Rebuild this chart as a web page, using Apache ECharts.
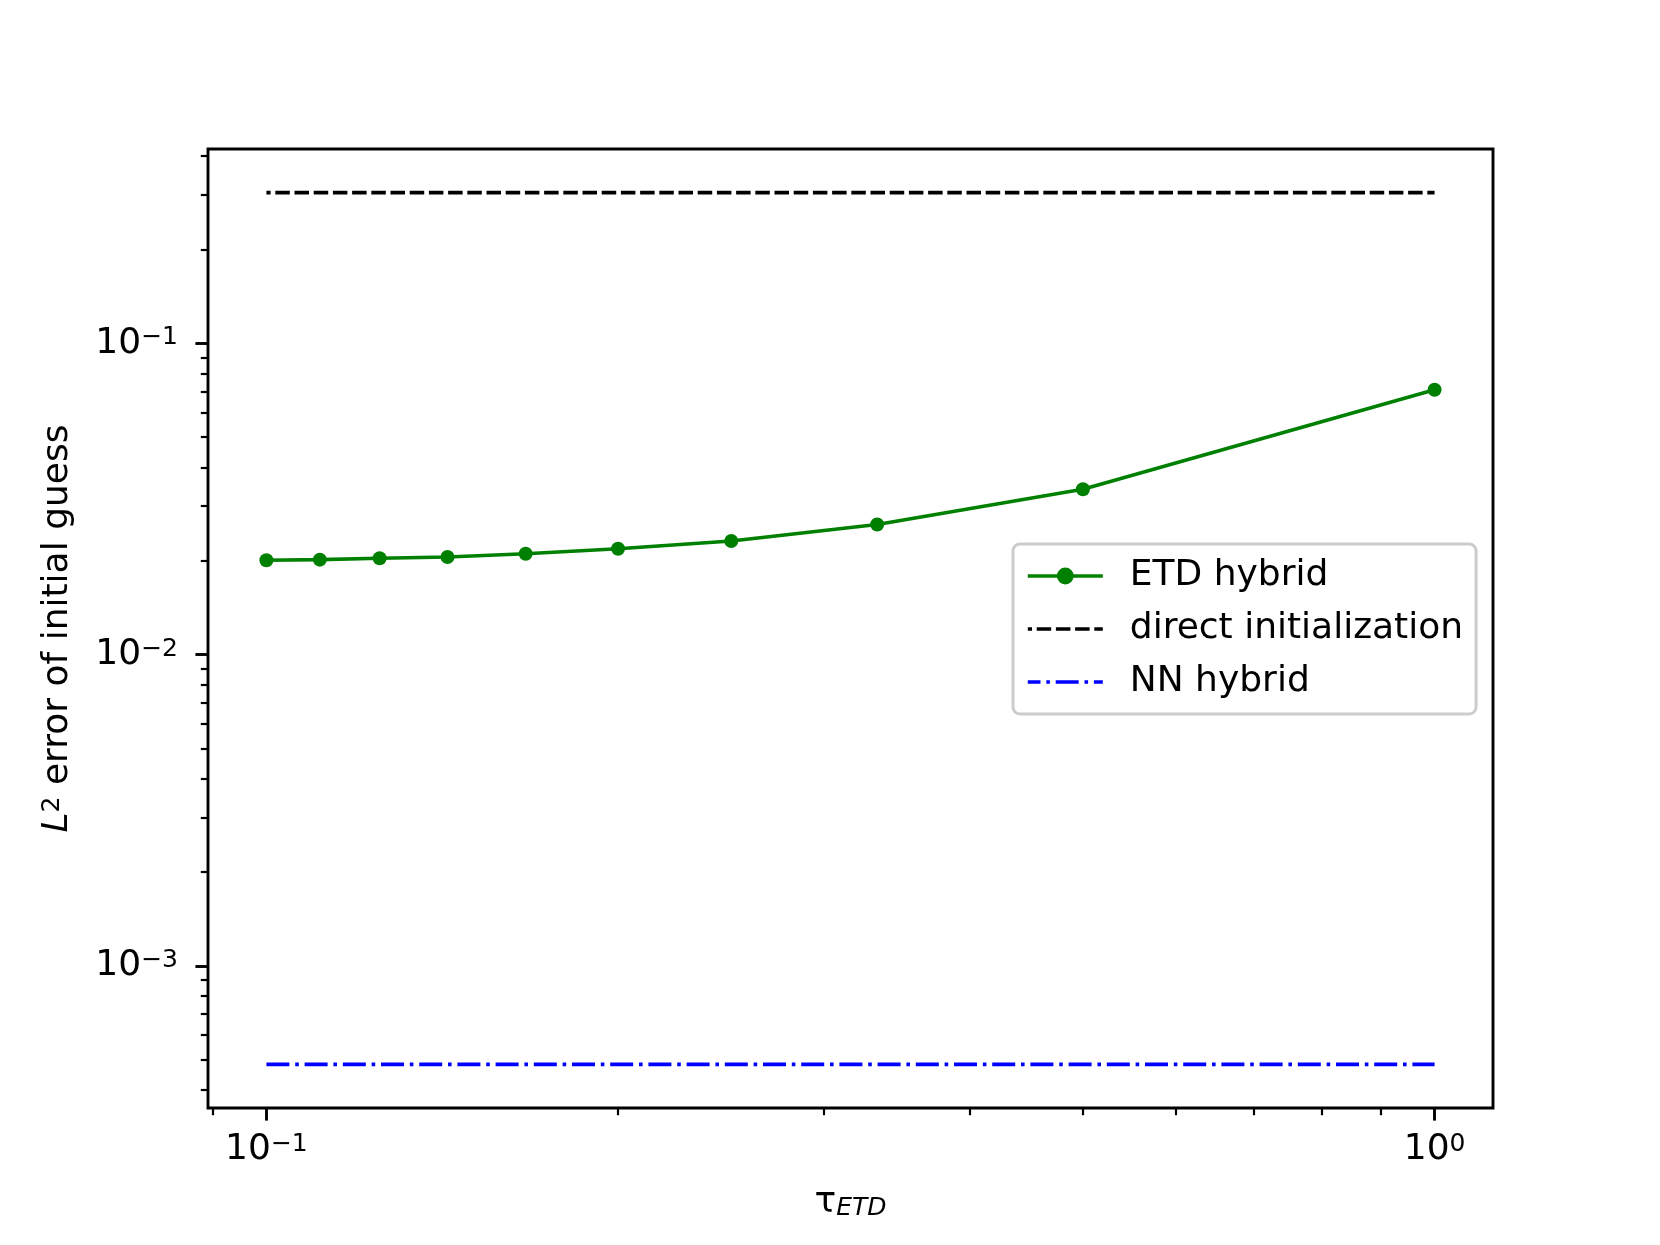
<!DOCTYPE html>
<html><head><meta charset="utf-8">
<script src="https://cdn.jsdelivr.net/npm/echarts@6/dist/echarts.min.js"></script>
<style>html,body{margin:0;padding:0;background:#fff}#c{width:1660px;height:1245px}</style>
</head><body><div id="c"></div>
<script>
// ---- data ----
const tau = [0.1, 0.1111, 0.125, 0.1429, 0.1667, 0.2, 0.25, 0.3333, 0.5, 1.0];
const etdHybrid = [0.0201, 0.0202, 0.0204, 0.0206, 0.0211, 0.0219, 0.0232, 0.0262, 0.0340, 0.0710];
const directInit = [0.3055, 0.3055, 0.3055, 0.3055, 0.3055, 0.3055, 0.3055, 0.3055, 0.3055, 0.3055];
const nnHybrid = [0.000482, 0.000482, 0.000482, 0.000482, 0.000482, 0.000482, 0.000482, 0.000482, 0.000482, 0.000482];
const seriesNames = ['ETD hybrid', 'direct initialization', 'NN hybrid'];
const xMajorTicks = [0.1, 1];
const xMinorTicks = [0.09, 0.2, 0.3, 0.4, 0.5, 0.6, 0.7, 0.8, 0.9];
const yMajorTicks = [0.001, 0.01, 0.1];
const yMinorTicks = [0.0004, 0.0005, 0.0006, 0.0007, 0.0008, 0.0009,
  0.002, 0.003, 0.004, 0.005, 0.006, 0.007, 0.008, 0.009,
  0.02, 0.03, 0.04, 0.05, 0.06, 0.07, 0.08, 0.09,
  0.2, 0.3, 0.4];

// ---- axis limits (matplotlib-style 5% margins in log space) ----
function logLimits(vals) {
  const lo = Math.log10(Math.min.apply(null, vals)), hi = Math.log10(Math.max.apply(null, vals));
  const m = 0.05 * (hi - lo);
  return [Math.pow(10, lo - m), Math.pow(10, hi + m)];
}
const xLim = logLimits(tau);
const yLim = logLimits(etdHybrid.concat(directInit, nnHybrid));

const FONT = 'DejaVu Sans';
const BLACK = '#000000';
const LW = 3.6;

function powLabel(v) {
  const e = Math.round(Math.log10(v));
  return '{b|10}{s|' + (e < 0 ? '\u2212' + (-e) : String(e)) + '}';
}
const powRich = {
  b: { fontSize: 36, lineHeight: 36, fontFamily: FONT, color: BLACK },
  s: { fontSize: 25, lineHeight: 24, verticalAlign: 'top', fontFamily: FONT, color: BLACK }
};

function majorAxis(lim, ticks, extra) {
  return Object.assign({
    type: 'log', logBase: 10, gridIndex: 0,
    min: lim[0], max: lim[1],
    axisLine: { show: false },
    splitLine: { show: false },
    minorTick: { show: false },
    minorSplitLine: { show: false },
    axisTick: { show: true, customValues: ticks, length: 12.6, lineStyle: { color: BLACK, width: 2.9 } }
  }, extra);
}
function minorAxis(lim, ticks, pos) {
  return {
    type: 'log', logBase: 10, gridIndex: 0, position: pos,
    min: lim[0], max: lim[1],
    axisLine: { show: false },
    splitLine: { show: false },
    axisLabel: { show: false },
    axisTick: { show: true, customValues: ticks, length: 7.2, lineStyle: { color: BLACK, width: 2.2 } }
  };
}

const chart = echarts.init(document.getElementById('c'), null, { renderer: 'canvas' });
const pairs = (ys) => tau.map((t, i) => [t, ys[i]]);
const noDot = { color: 'rgba(0,0,0,0)', borderWidth: 0, borderColor: 'rgba(0,0,0,0)' };

chart.setOption({
  animation: false,
  backgroundColor: '#ffffff',
  grid: {
    left: 208, right: 167, top: 149, bottom: 137,
    show: true, borderColor: BLACK, borderWidth: 2.9, backgroundColor: '#ffffff',
    containLabel: false
  },
  xAxis: [
    majorAxis(xLim, xMajorTicks, {
      position: 'bottom',
      name: '{t|\u03c4}{u|ETD}', nameLocation: 'middle', nameGap: 77,
      nameTextStyle: {
        rich: {
          t: { fontSize: 36, lineHeight: 36, fontFamily: FONT, color: BLACK },
          u: { fontSize: 25, lineHeight: 14, verticalAlign: 'bottom', fontStyle: 'italic', fontFamily: FONT, color: BLACK }
        }
      },
      axisLabel: {
        show: true, customValues: xMajorTicks, formatter: powLabel, rich: powRich, margin: 24,
        fontSize: 36, fontFamily: FONT, color: BLACK, hideOverlap: false
      }
    }),
    minorAxis(xLim, xMinorTicks, 'bottom')
  ],
  yAxis: [
    majorAxis(yLim, yMajorTicks, {
      position: 'left',
      name: '{i|L}{s|2}{n| error of initial guess}', nameLocation: 'middle', nameRotate: 90, nameGap: 132,
      nameTextStyle: {
        rich: {
          i: { fontSize: 36, lineHeight: 36, fontStyle: 'italic', fontFamily: FONT, color: BLACK },
          s: { fontSize: 25, lineHeight: 20, verticalAlign: 'top', fontFamily: FONT, color: BLACK },
          n: { fontSize: 36, lineHeight: 36, fontFamily: FONT, color: BLACK }
        }
      },
      axisLabel: {
        show: true, customValues: yMajorTicks, formatter: powLabel, rich: powRich, margin: 30,
        fontSize: 36, fontFamily: FONT, color: BLACK, hideOverlap: false
      }
    }),
    minorAxis(yLim, yMinorTicks, 'left')
  ],
  legend: {
    orient: 'vertical', left: 1013, top: 544,
    padding: [12, 13, 12, 13], itemGap: 13, itemWidth: 75, itemHeight: 21,
    backgroundColor: 'rgba(255,255,255,0.8)', borderColor: '#cccccc', borderWidth: 3, borderRadius: 7,
    selectedMode: false,
    lineStyle: { width: LW },
    textStyle: { fontSize: 36, lineHeight: 40, fontFamily: FONT, color: BLACK, padding: [0, 0, 0, 22] },
    data: [
      { name: seriesNames[0] },
      { name: seriesNames[1], itemStyle: noDot },
      { name: seriesNames[2], itemStyle: noDot }
    ]
  },
  series: [
    {
      name: seriesNames[0], type: 'line', xAxisIndex: 0, yAxisIndex: 0,
      data: pairs(etdHybrid), symbol: 'circle', symbolSize: 14, showSymbol: true,
      color: '#008000',
      lineStyle: { color: '#008000', width: LW },
      itemStyle: { color: '#008000', borderWidth: 0 },
      emphasis: { disabled: true }, z: 3
    },
    {
      name: seriesNames[1], type: 'line', xAxisIndex: 0, yAxisIndex: 0,
      data: pairs(directInit), symbol: 'none', showSymbol: false,
      color: BLACK,
      lineStyle: { color: BLACK, width: LW, type: [14.5, 4.7], dashOffset: 10.3, cap: 'butt' },
      itemStyle: { color: BLACK },
      emphasis: { disabled: true }, z: 2
    },
    {
      name: seriesNames[2], type: 'line', xAxisIndex: 0, yAxisIndex: 0,
      data: pairs(nnHybrid), symbol: 'none', showSymbol: false,
      color: '#0000ff',
      lineStyle: { color: '#0000ff', width: LW, type: [23, 5.8, 3.6, 5.8], cap: 'butt' },
      itemStyle: { color: '#0000ff' },
      emphasis: { disabled: true }, z: 2
    }
  ]
});
</script>
</body></html>
